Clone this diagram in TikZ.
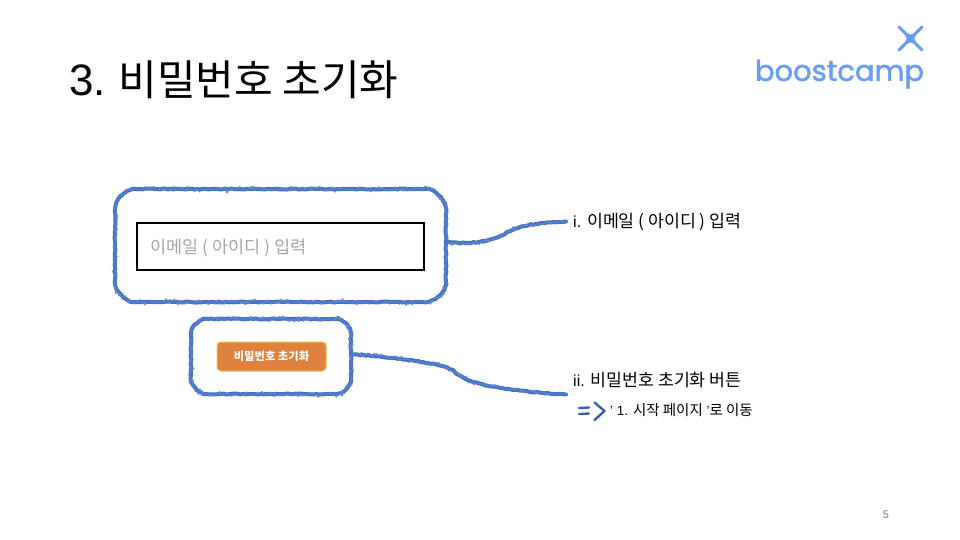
\documentclass[tikz,border=0pt]{standalone}
\usepackage{fontspec}
\setmainfont{Liberation Sans}
\newfontfamily\kr{Noto Sans CJK KR}
\newfontfamily\krl[Scale=1.08]{Noto Sans CJK KR}
\newfontfamily\krt[Scale=0.955]{Noto Sans CJK KR}
\newfontfamily\logofont[FakeBold=1.6]{Poppins}
\newcommand{\K}[1]{{\krl #1}}
\usetikzlibrary{decorations.pathmorphing}
\definecolor{sketch}{HTML}{4472C4}
\definecolor{sketchdark}{HTML}{3F5FA8}
\definecolor{logoblue}{HTML}{6C9BF5}
\definecolor{btn}{HTML}{E0813F}
\definecolor{btnedge}{HTML}{F2B93B}
\definecolor{hint}{HTML}{A6A6A6}
\newcommand{\sketchbox}[5]{% x0,y0,x1,y1,r
  \pgfmathsetmacro{\qa}{#1+#5}\pgfmathsetmacro{\qb}{#3-#5}
  \pgfmathsetmacro{\qc}{#2+#5}\pgfmathsetmacro{\qd}{#4-#5}
  \pgfmathsetmacro{\qk}{0.45*#5}
  \draw[crayon] (\qa,#2) -- (\qb,#2)
    .. controls (\qb+\qk,#2) and (#3,\qc-\qk) .. (#3,\qc) -- (#3,\qd)
    .. controls (#3,\qd+\qk) and (\qb+\qk,#4) .. (\qb,#4) -- (\qa,#4)
    .. controls (\qa-\qk,#4) and (#1,\qd+\qk) .. (#1,\qd) -- (#1,\qc)
    .. controls (#1,\qc-\qk) and (\qa-\qk,#2) .. (\qa,#2);
}
\tikzset{
  x=1pt,y=-1pt,
  txt/.style={inner sep=0pt,anchor=west,text=black},
  crayon/.style={draw=sketch,line width=4pt,line cap=round,line join=round,
    decorate,decoration={random steps,segment length=2.5pt,amplitude=.5pt},
    postaction={draw=sketch!85,line width=.8pt,decorate,
      decoration={random steps,segment length=1.5pt,amplitude=3.2pt}}},
  pen/.style={draw=sketchdark,line width=2.4pt,line cap=round,line join=round},
  logoline/.style={draw=logoblue,line width=3pt,line cap=round},
  logocore/.style={draw=logoblue,line width=5pt,line cap=round},
}
\begin{document}
\begin{tikzpicture}
\useasboundingbox (0,0) rectangle (960,540);
\pgfmathsetseed{42}
% title
\node[txt,font=\fontsize{44}{48}\selectfont] (title) at (69,80) {3.\hspace{12.5pt}{\krt 비밀번호 초기화}};
% logo
\coordinate (xa) at (899,27); \coordinate (xb) at (922,50);
\coordinate (xc) at (922,27); \coordinate (xd) at (899,50);
\coordinate (xe) at (908,36); \coordinate (xf) at (913,41);
\coordinate (xg) at (913,36); \coordinate (xh) at (908,41);
\draw[logoline] (xa) -- (xb);
\draw[logoline] (xc) -- (xd);
\draw[logocore] (xe) -- (xf);
\draw[logocore] (xg) -- (xh);
\node[inner sep=0pt,anchor=center,text=logoblue,font=\logofont\fontsize{29}{32}\selectfont] (logo) at (839.5,74) {boostcamp};
% email group
\sketchbox{115}{189}{446}{302}{20}
\coordinate (boxAe) at (446,242);
\node[draw=black,line width=2.2pt,minimum width=287pt,minimum height=47pt,inner sep=0pt] (field) at (280.5,246.5) {};
\node[txt,text=hint,font=\kr\fontsize{17.5}{20}\selectfont] (fieldtxt) at (150,248) {이메일 ( 아이디 ) 입력};
% button group
\sketchbox{191}{319}{351}{394}{15}
\coordinate (boxBe) at (351,354);
\node[draw=btnedge,fill=btn,line width=1pt,rounded corners=4pt,minimum width=109pt,minimum height=29pt,inner sep=0pt,text=white,font=\kr\bfseries\fontsize{11.3}{13}\selectfont] (button) at (271.5,356.5) {비밀번호 초기화};
% labels
\node[txt,font=\fontsize{16}{19}\selectfont] (labA) at (573,222) {i. \K{이메일 ( 아이디 ) 입력}};
\node[txt,font=\fontsize{16}{19}\selectfont] (labB) at (573,380) {ii. \K{비밀번호 초기화 버튼}};
\node[txt,font=\fontsize{13.4}{16}\selectfont] (labC) at (610,410.5) {' 1. \K{시작 페이지} '\K{로 이동}};
% connectors
\coordinate (endA) at (566,221.5);
\coordinate (endB) at (566,394.5);
\draw[crayon] (boxAe) .. controls (475,245) and (495,240) .. (505,234)
  .. controls (515,226) and (540,222) .. (endA);
\draw[crayon] (boxBe) .. controls (385,357) and (440,362) .. (454,371)
  .. controls (470,388) and (520,391) .. (endB);
% arrow
\coordinate (e1) at (579,408); \coordinate (e2) at (589,407.5);
\coordinate (e3) at (579,414); \coordinate (e4) at (589,413.5);
\coordinate (c1) at (594.5,402.5); \coordinate (c2) at (604.5,411); \coordinate (c3) at (594.5,420);
\draw[pen] (e1) -- (e2);
\draw[pen] (e3) -- (e4);
\draw[pen] (c1) -- (c2) -- (c3);
% page number
\node[inner sep=0pt,text=gray,font=\fontsize{11}{13}\selectfont] (page) at (886,515) {5};
\end{tikzpicture}
\end{document}
